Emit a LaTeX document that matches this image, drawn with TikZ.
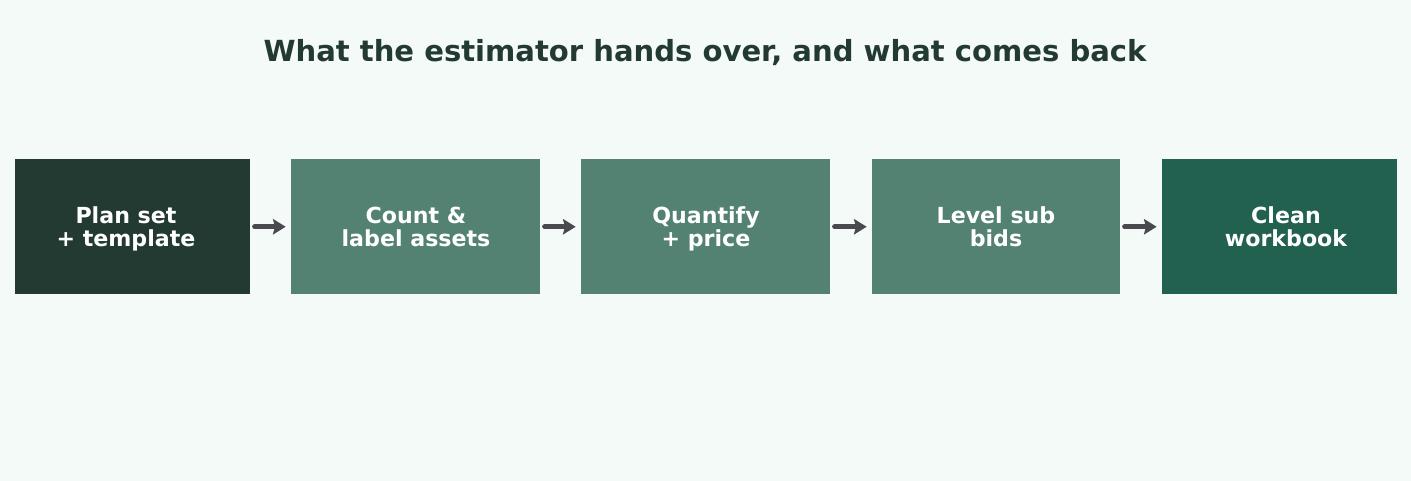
\documentclass[tikz,border=0pt]{standalone}
\usepackage{fontspec}
\setmainfont{DejaVu Sans}
\usetikzlibrary{arrows.meta}
\definecolor{bgc}{HTML}{F3FAF7}
\definecolor{darkg}{HTML}{233A33}
\definecolor{midg}{HTML}{538272}
\definecolor{endg}{HTML}{22604F}
\definecolor{arrc}{HTML}{4A4A4E}
\newcommand\lstr{\rule[-4.4pt]{0pt}{17.2pt}}
\begin{document}
\begin{tikzpicture}[x=0.75pt,y=-0.75pt,
  boxst/.style={draw=none,inner sep=0pt,minimum height=101.25pt,anchor=north west},
  lbl/.style={text=white,font=\fontsize{16.6}{17.3}\selectfont\bfseries,align=center,inner sep=0pt},
  conn/.style={draw=arrc,line width=3.6pt,line cap=round,-{Stealth[length=9.5pt,width=11.5pt,inset=1.5pt]},shorten <=3pt,shorten >=4pt}]
\fill[bgc] (0,0) rectangle (1411,481);
\useasboundingbox (0,0) rectangle (1411,481);
\node[text=darkg,font=\fontsize{21.8}{26}\selectfont\bfseries] (title) at (705,53) {What the estimator hands over, and what comes back};
\node[boxst,fill=darkg,minimum width=176.25pt] (b1) at (15,159) {};
\node[boxst,fill=midg,minimum width=186.75pt] (b2) at (291,159) {};
\node[boxst,fill=midg,minimum width=186.75pt] (b3) at (581,159) {};
\node[boxst,fill=midg,minimum width=186pt] (b4) at (872,159) {};
\node[boxst,fill=endg,minimum width=176.25pt] (b5) at (1162,159) {};
\node[lbl] (t1) at (126,229) {\lstr Plan set\\\lstr + template};
\node[lbl] (t2) at (416,229) {\lstr Count \&\\\lstr label assets};
\node[lbl] (t3) at (706,229) {\lstr Quantify\\\lstr + price};
\node[lbl] (t4) at (996,229) {\lstr Level sub\\\lstr bids};
\node[lbl] (t5) at (1286,229) {\lstr Clean\\\lstr workbook};
\draw[conn] (b1.east) -- (b2.west);
\draw[conn] (b2.east) -- (b3.west);
\draw[conn] (b3.east) -- (b4.west);
\draw[conn] (b4.east) -- (b5.west);
\end{tikzpicture}
\end{document}
